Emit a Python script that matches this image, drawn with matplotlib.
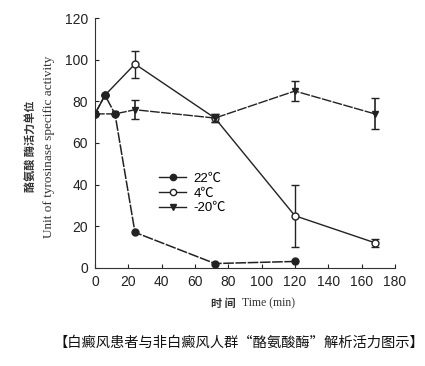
import matplotlib.pyplot as plt
from matplotlib.lines import Line2D

plt.rcParams['font.family'] = ['Liberation Sans', 'Noto Sans CJK SC', 'DejaVu Sans']

# 22℃
t_22 = [0, 6, 12, 24, 72, 120]
v_22 = [74, 83, 74, 17, 2, 3]
# 4℃
t_4 = [0, 6, 24, 72, 120, 168]
v_4 = [74, 83, 98, 72, 25, 12]
e_4 = [0, 0, 6.5, 2, 15, 2]
# -20℃
t_m20 = [0, 12, 24, 72, 120, 168]
v_m20 = [74, 74, 76, 72, 85, 74]
e_m20 = [0, 0, 4.5, 2, 5, 7.5]

fig = plt.figure(figsize=(4.25, 3.66), dpi=100)
ax = fig.add_axes([0.2235, 0.2686, 0.7055, 0.6814])

col = '#222222'
ax.errorbar(t_4, v_4, yerr=e_4, color=col, lw=1.0, marker='o', ms=5,
            mfc='white', mec=col, capsize=3, elinewidth=1.0, zorder=2)
ax.errorbar(t_m20, v_m20, yerr=e_m20, color=col, lw=1.0, ls=(0, (7, 1)),
            marker='v', ms=5, mfc=col, mec=col, capsize=3, elinewidth=1.2,
            zorder=3)
ax.plot(t_22, v_22, color=col, lw=1.1, ls=(0, (7, 1)), marker='o', ms=5,
        mfc=col, mec=col, zorder=4)

ax.set_xlim(0, 180)
ax.set_ylim(0, 120)
ax.set_xticks(range(0, 181, 20))
ax.set_yticks(range(0, 121, 20))
ax.tick_params(direction='in', length=3, labelsize=10, colors='#222222', pad=5)
for s in ['top', 'right']:
    ax.spines[s].set_visible(False)
for s in ['left', 'bottom']:
    ax.spines[s].set_color('#333333')

handles = [
    Line2D([], [], color=col, lw=1.0, marker='o', ms=4.5, mfc=col, mec=col),
    Line2D([], [], color=col, lw=1.0, marker='o', ms=4.5, mfc='white', mec=col),
    Line2D([], [], color=col, lw=1.0, marker='v', ms=4.5, mfc=col, mec=col),
]
ax.legend(handles, ['22℃', '4℃', '-20℃'], loc='upper left',
          bbox_to_anchor=(0.175, 0.43), frameon=False, fontsize=9.5,
          handlelength=2.0, labelspacing=0.2, handletextpad=0.6)

fig.text(0.072, 0.6, '酪氨酸 酶活力单位', rotation=90, ha='center', va='center',
         fontsize=8, family=['Noto Sans CJK SC'], weight='bold', color='#333333')
fig.text(0.115, 0.6, 'Unit of tyrosinase specific activity', rotation=90,
         ha='center', va='center', fontsize=9.5, family=['Liberation Serif'],
         color='#333333')
fig.text(0.555, 0.172, '时 间', ha='right', va='center', fontsize=8,
         family=['Noto Sans CJK SC'], weight='bold', color='#333333')
fig.text(0.57, 0.172, 'Time (min)', ha='left', va='center', fontsize=8.5,
         family=['Liberation Serif'], color='#333333')
fig.text(0.998, 0.062, '【白癜风患者与非白癜风人群“酪氨酸酶”解析活力图示】',
         ha='right', va='center', fontsize=10.3, family=['Noto Sans CJK SC'],
         color='#111111')

fig.savefig('out.png', dpi=100)
